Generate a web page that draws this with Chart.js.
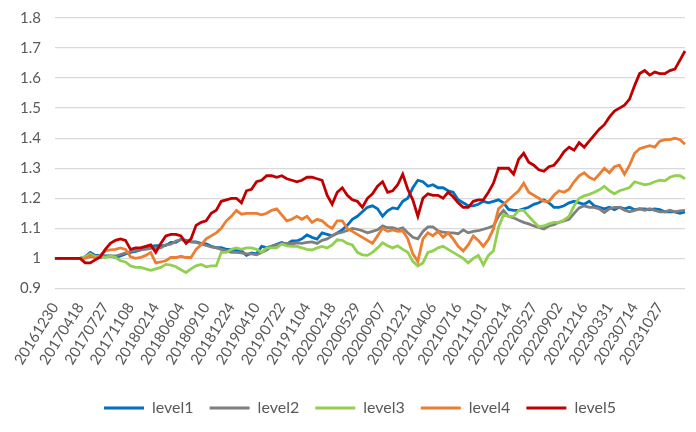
<!DOCTYPE html>
<html>
<head>
<meta charset="utf-8">
<script src="https://cdn.jsdelivr.net/npm/chart.js@4"></script>
<style>
html,body{margin:0;padding:0;background:#fff;}
#wrap{width:696px;height:432px;}
</style>
</head>
<body>
<div id="wrap"><canvas id="c" width="696" height="432"></canvas></div>
<script>
const tickLabels = ["20161230","20170418","20170727","20171108","20180214","20180604","20180910","20181224","20190410","20190722","20191104","20200218","20200529","20200907","20201221","20210406","20210716","20211101","20220214","20220527","20220902","20221216","20230331","20230714","20231027"];
const samplesPerLabel = 5;
const seriesNames = ["level1","level2","level3","level4","level5"];
const seriesColors = ["#0070C0","#7F7F7F","#92D050","#ED7D31","#C00000"];

const level1 = [1,1,1,1,1,1,
1.005,1.02,1.01,1.01,1.008,1.008,1.003,1.008,1.015,1.02,
1.023,1.028,1.033,1.04,1.042,1.042,1.043,1.053,1.053,1.064,
1.06,1.055,1.055,1.05,1.048,1.04,1.036,1.036,1.03,1.03,
1.027,1.025,1.01,1.018,1.015,1.04,1.036,1.04,1.047,1.053,
1.047,1.058,1.058,1.065,1.078,1.07,1.064,1.085,1.08,1.075,
1.085,1.095,1.11,
1.13,1.14,1.155,1.17,1.175,1.165,1.14,1.158,1.168,1.165,
1.19,1.2,1.235,1.26,1.255,1.24,1.245,1.235,1.235,1.225,
1.22,1.195,1.185,1.175,1.175,1.18,1.19,1.185,1.19,1.195,
1.185,1.163,1.16,1.16,1.165,1.17,1.18,1.185,1.195,1.185,
1.17,1.17,1.175,1.185,1.19,1.185,1.18,1.19,1.175,1.17,
1.165,1.17,1.162,1.17,1.165,1.17,1.162,1.165,1.165,1.162,
1.165,1.162,1.155,1.155,1.155,1.15,1.155];

const level2 = [1,1,1,1,1,1,
1.003,1.005,1.008,1.003,1.007,1.008,1.008,1.013,1.018,1.023,
1.027,1.03,1.03,1.033,1.035,1.035,1.045,1.047,1.058,1.062,
1.058,1.055,1.053,1.048,1.043,1.038,1.035,1.03,1.025,1.02,
1.02,1.018,1.015,1.015,1.012,1.02,1.028,1.04,1.045,1.048,
1.05,1.048,1.052,1.05,1.053,1.055,1.05,1.06,1.065,1.075,
1.083,1.087,1.093,
1.1,1.097,1.092,1.085,1.09,1.095,1.108,1.102,1.102,1.097,
1.102,1.085,1.07,1.065,1.09,1.105,1.105,1.092,1.087,1.085,
1.085,1.082,1.095,1.085,1.09,1.092,1.097,1.102,1.108,1.14,
1.16,1.14,1.135,1.127,1.12,1.115,1.108,1.103,1.098,1.108,
1.112,1.12,1.125,1.13,1.15,1.168,1.175,1.17,1.17,1.165,
1.153,1.165,1.17,1.17,1.16,1.155,1.16,1.165,1.16,1.165,
1.16,1.155,1.155,1.16,1.155,1.158,1.16];

const level3 = [1,1,1,1,1,1,
1.005,1.015,1.005,1.008,1.003,1.008,1.003,0.992,0.988,0.975,
0.97,0.97,0.965,0.96,0.965,0.97,0.98,0.978,0.972,0.962,
0.953,0.965,0.975,0.98,0.972,0.975,0.975,1.02,1.02,1.03,
1.035,1.03,1.035,1.035,1.03,1.02,1.035,1.035,1.035,1.048,
1.042,1.04,1.04,1.035,1.03,1.028,1.035,1.04,1.035,1.045,
1.062,1.06,1.05,
1.045,1.02,1.012,1.01,1.02,1.035,1.052,1.042,1.035,1.042,
1.03,1.02,0.99,0.975,0.985,1.02,1.025,1.035,1.04,1.03,
1.02,1.01,1.0,0.985,1.0,1.01,0.978,1.01,1.025,1.103,
1.145,1.14,1.14,1.16,1.16,1.14,1.122,1.105,1.108,1.115,
1.12,1.12,1.128,1.14,1.175,1.2,1.208,1.213,1.22,1.228,
1.24,1.225,1.215,1.225,1.23,1.236,1.255,1.25,1.245,1.248,
1.255,1.26,1.258,1.27,1.275,1.275,1.265];

const level4 = [1,1,1,1,1,1,
1.0,1.01,1.0,1.01,1.025,1.028,1.03,1.035,1.03,1.005,
1.0,1.003,1.01,1.02,0.985,0.988,0.992,1.003,1.003,1.007,
1.003,1.003,1.03,1.045,1.065,1.075,1.085,1.1,1.125,1.14,
1.16,1.147,1.15,1.15,1.15,1.145,1.15,1.16,1.165,1.145,
1.125,1.13,1.14,1.13,1.14,1.12,1.13,1.125,1.11,1.1,
1.125,1.125,1.1,
1.09,1.08,1.07,1.06,1.05,1.075,1.1,1.09,1.095,1.09,
1.092,1.065,1.015,0.99,1.065,1.085,1.075,1.09,1.07,1.085,
1.065,1.04,1.025,1.045,1.075,1.06,1.04,1.063,1.098,1.165,
1.18,1.195,1.21,1.225,1.25,1.22,1.21,1.2,1.19,1.19,
1.21,1.225,1.22,1.23,1.255,1.275,1.285,1.27,1.262,1.28,
1.3,1.285,1.305,1.31,1.28,1.31,1.35,1.365,1.37,1.375,
1.37,1.39,1.395,1.395,1.4,1.395,1.38];

const level5 = [1,1,1,1,1,1,
0.985,0.985,0.995,1.005,1.03,1.05,1.06,1.065,1.06,1.03,
1.035,1.035,1.04,1.045,1.02,1.05,1.075,1.08,1.08,1.075,
1.05,1.065,1.11,1.12,1.125,1.15,1.16,1.19,1.195,1.2,
1.2,1.185,1.225,1.23,1.255,1.26,1.275,1.275,1.27,1.275,
1.265,1.26,1.255,1.26,1.27,1.27,1.265,1.26,1.21,1.18,
1.22,1.235,1.21,
1.195,1.19,1.17,1.2,1.215,1.24,1.255,1.22,1.225,1.245,
1.28,1.23,1.195,1.14,1.2,1.215,1.21,1.21,1.2,1.22,
1.205,1.185,1.17,1.17,1.19,1.195,1.195,1.22,1.25,1.3,
1.3,1.3,1.28,1.33,1.35,1.32,1.31,1.295,1.29,1.305,
1.31,1.33,1.355,1.37,1.36,1.385,1.37,1.39,1.41,1.43,
1.445,1.47,1.49,1.5,1.51,1.53,1.575,1.615,1.625,1.61,
1.62,1.615,1.615,1.625,1.63,1.66,1.69];

const seriesValues = [level1, level2, level3, level4, level5];
const n = level1.length;
const categories = Array.from({length: n}, (_, i) =>
  (i % samplesPerLabel === 0 && tickLabels[i / samplesPerLabel]) ? tickLabels[i / samplesPerLabel] : '');

const txt = '#595959';
const fontFamily = 'Lato, "Liberation Sans", sans-serif';

// nudge the bottom legend row to the right, as in the reference
const legendShift = {
  id: 'legendShift',
  afterLayout(chart) { if (chart.legend) chart.legend.left += 29; }
};

new Chart(document.getElementById('c'), {
  type: 'line',
  data: {
    labels: categories,
    datasets: seriesNames.map((name, k) => ({
      label: name,
      data: seriesValues[k],
      borderColor: seriesColors[k],
      backgroundColor: seriesColors[k],
      borderWidth: 2.8,
      pointRadius: 0,
      tension: 0,
      order: seriesNames.length - 1 - k
    }))
  },
  plugins: [legendShift],
  options: {
    responsive: false,
    animation: false,
    devicePixelRatio: 1,
    layout: { padding: { left: 6, right: 11, top: 18, bottom: 6 } },
    plugins: {
      tooltip: { enabled: false },
      legend: {
        position: 'bottom',
        labels: {
          usePointStyle: true,
          pointStyle: 'line',
          pointStyleWidth: 40,
          padding: 16,
          color: txt,
          font: { family: fontFamily, size: 16 },
          sort: (a, b) => a.datasetIndex - b.datasetIndex
        }
      }
    },
    scales: {
      x: {
        type: 'category',
        grid: { display: false, drawTicks: false },
        border: { display: false },
        afterFit(scale) { scale.height += 5; scale.paddingLeft = 0; scale.paddingRight = 0; },
        ticks: {
          autoSkip: false,
          minRotation: 58,
          maxRotation: 58,
          padding: 11,
          color: txt,
          font: { family: fontFamily, size: 15 },
          callback: function(v, i) { return categories[i]; }
        }
      },
      y: {
        min: 0.9,
        max: 1.8,
        grid: { color: '#D9D9D9', lineWidth: 1.3, drawTicks: false },
        border: { display: false },
        afterFit(scale) { scale.paddingTop = 0; scale.paddingBottom = 0; },
        ticks: {
          stepSize: 0.1,
          padding: 14,
          color: txt,
          font: { family: fontFamily, size: 15 },
          callback: v => String(Math.round(v * 10) / 10)
        }
      }
    }
  }
});
</script>
</body>
</html>
